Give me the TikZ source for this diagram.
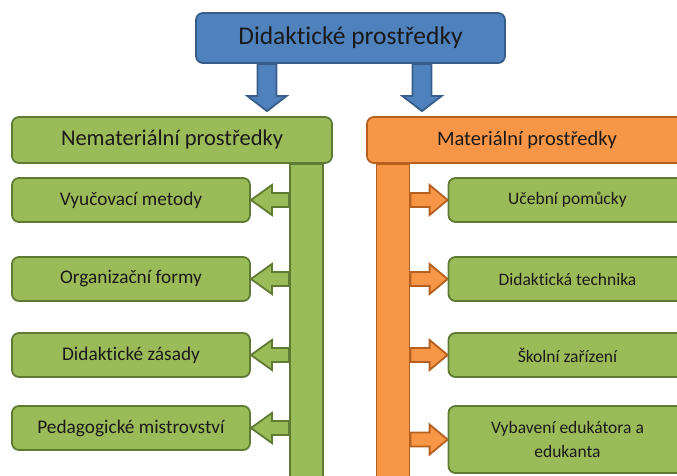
\documentclass[tikz,border=0pt]{standalone}
\usepackage{fontspec}
\setmainfont{Carlito}[Ligatures=NoCommon]
\usetikzlibrary{calc,backgrounds}

\definecolor{bluefill}{HTML}{4F81BD}
\definecolor{blueline}{HTML}{385D8A}
\definecolor{greenfill}{HTML}{9BBB59}
\definecolor{greenline}{HTML}{5F7A32}
\definecolor{orangefill}{HTML}{F79646}
\definecolor{orangeline}{HTML}{B5601F}
\definecolor{textcol}{HTML}{1A1A1A}

\tikzset{
  box/.style={rectangle, rounded corners=7pt, line width=1.8pt, inner sep=2pt, text=textcol},
  bluebox/.style={box, draw=blueline, fill=bluefill},
  greenbox/.style={box, draw=greenline, fill=greenfill},
  orangebox/.style={box, draw=orangeline, fill=orangefill},
  headbox/.style={minimum width=320pt, minimum height=46pt},
  leftitem/.style={greenbox, minimum width=238pt, minimum height=44pt, font=\fontsize{19.3}{23}\selectfont},
  rightitem/.style={greenbox, minimum width=238pt, minimum height=44pt, align=center, font=\fontsize{17.5}{24}\selectfont},
  bar/.style={rectangle, line width=1.8pt, minimum width=33pt, minimum height=330pt, anchor=north},
  garrow/.style={draw=greenline, fill=greenfill, line width=1.8pt},
  oarrow/.style={draw=orangeline, fill=orangefill, line width=1.8pt},
  barrow/.style={draw=blueline, fill=bluefill, line width=1.8pt}
}

% block arrows from a bar to an item
\newcommand{\leftbranch}[2]{%
  \draw[garrow] ($(#2.west |- #1.east)+(0,-7)$) -- ($(#1.east)+(21,-7)$) -- ($(#1.east)+(21,-15)$)
    -- (#1.east) -- ($(#1.east)+(21,15)$) -- ($(#1.east)+(21,7)$) -- ($(#2.west |- #1.east)+(0,7)$) -- cycle;}
\newcommand{\rightbranch}[2]{%
  \draw[oarrow] ($(#2.east |- #1.west)+(0,-7)$) -- ($(#1.west)+(-18,-7)$) -- ($(#1.west)+(-18,-15)$)
    -- (#1.west) -- ($(#1.west)+(-18,15)$) -- ($(#1.west)+(-18,7)$) -- ($(#2.east |- #1.west)+(0,7)$) -- cycle;}
% block arrow from the top box down to a header
\newcommand{\downbranch}[3]{%
  \coordinate (T) at (#1.south -| #3);
  \coordinate (H) at ($(#2.north -| #3)+(0,-5)$);
  \draw[barrow] ($(T)+(-9.5,0)$) -- ($(H)+(-9.5,-15)$) -- ($(H)+(-19.5,-15)$) -- (H)
    -- ($(H)+(19.5,-15)$) -- ($(H)+(9.5,-15)$) -- ($(T)+(9.5,0)$) -- cycle;}

\begin{document}
\begin{tikzpicture}[x=1pt, y=-1pt]
  \useasboundingbox (0,0) rectangle (677,476);
  \clip (0,0) rectangle (677,476);

  % bars under the headers
  \node (nebar) [bar, draw=greenline, fill=greenfill] at (306.5,163) {};
  \node (mabar) [bar, draw=orangeline, fill=orangefill] at (393,163) {};

  % top box and headers
  \node (top) [bluebox, minimum width=309pt, minimum height=50pt, font=\fontsize{25.5}{30}\selectfont] at (350.5,38) {Didaktické prostředky};
  \node (nehead) [greenbox, headbox, font=\fontsize{22.5}{27}\selectfont] at (172,140) {Nemateriální prostředky};
  \node (mahead) [orangebox, headbox, font=\fontsize{20.5}{25}\selectfont] at (527,140) {Materiální prostředky};

  % items
  \foreach \y/\t [count=\i] in {200/Vyučovací metody, 279/Organizační formy, 355/Didaktické zásady, 428/Pedagogické mistrovství}
    \node (ne\i) [leftitem] at (131,\y) {\t};
  \foreach \y/\t [count=\i] in {200/Učební pomůcky, 279/Didaktická technika, 355/Školní zařízení}
    \node (ma\i) [rightitem] at (567.5,\y) {\t};
  \node (ma4) [rightitem, minimum height=67pt] at (567.5,439.5) {Vybavení edukátora a\\edukanta};

  \coordinate (nex) at (267,0);
  \coordinate (max) at (422,0);

  \begin{scope}[on background layer]
    \downbranch{top}{nehead}{nex}
    \downbranch{top}{mahead}{max}
    \foreach \i in {1,...,4} {\leftbranch{ne\i}{nebar}}
    \foreach \i in {1,...,4} {\rightbranch{ma\i}{mabar}}
  \end{scope}
\end{tikzpicture}
\end{document}
